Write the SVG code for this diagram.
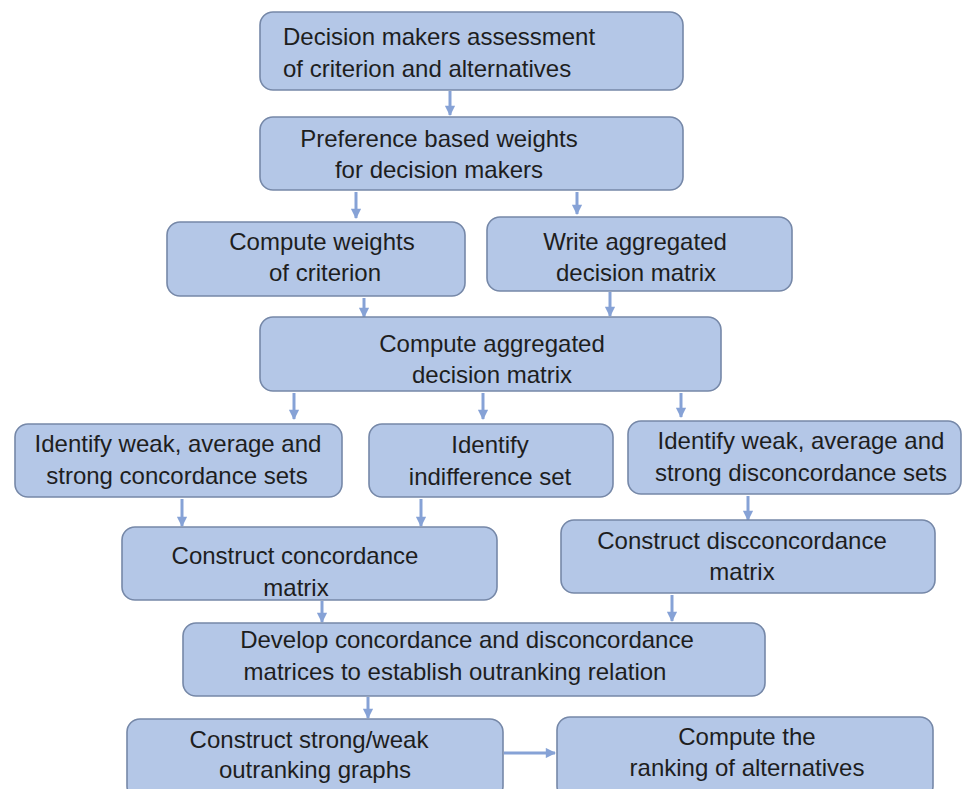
<svg xmlns="http://www.w3.org/2000/svg" width="964" height="789" viewBox="0 0 964 789">
<defs>
<style>
.box{fill:#b4c7e7;stroke:#7688a8;stroke-width:1.6}
.t{font-family:"Liberation Sans",Arial,sans-serif;font-size:24px;fill:#1e1e1e;text-anchor:middle}
.tl{text-anchor:start}
.c{stroke:#86a2d6;stroke-width:3;fill:none}
</style>
<marker id="ah" viewBox="0 0 10 10" refX="9" refY="5" markerWidth="4" markerHeight="3.4" orient="auto" markerUnits="strokeWidth">
<path d="M0,0 L10,5 L0,10 z" fill="#86a2d6"/>
</marker>
</defs>
<rect width="964" height="789" fill="#ffffff"/>
<g id="connectors">
<line class="c" x1="450" y1="91" x2="450" y2="115" marker-end="url(#ah)"/>
<line class="c" x1="356" y1="192" x2="356" y2="218" marker-end="url(#ah)"/>
<line class="c" x1="577" y1="192" x2="577" y2="214" marker-end="url(#ah)"/>
<line class="c" x1="364" y1="298" x2="364" y2="317" marker-end="url(#ah)"/>
<line class="c" x1="610" y1="292" x2="610" y2="316" marker-end="url(#ah)"/>
<line class="c" x1="294" y1="393" x2="294" y2="419" marker-end="url(#ah)"/>
<line class="c" x1="483" y1="393" x2="483" y2="419" marker-end="url(#ah)"/>
<line class="c" x1="681" y1="393" x2="681" y2="417" marker-end="url(#ah)"/>
<line class="c" x1="182" y1="499" x2="182" y2="526" marker-end="url(#ah)"/>
<line class="c" x1="421" y1="499" x2="421" y2="526" marker-end="url(#ah)"/>
<line class="c" x1="748" y1="496" x2="748" y2="520" marker-end="url(#ah)"/>
<line class="c" x1="322" y1="601" x2="322" y2="622" marker-end="url(#ah)"/>
<line class="c" x1="672" y1="595" x2="672" y2="621" marker-end="url(#ah)"/>
<line class="c" x1="368" y1="697" x2="368" y2="718" marker-end="url(#ah)"/>
<line class="c" x1="504" y1="753" x2="555" y2="753" stroke-width="4" marker-end="url(#ah)"/>
</g>
<g id="n1"><rect class="box" x="260" y="12" width="423" height="78" rx="13"/>
<text class="t tl" x="283" y="45">Decision makers assessment</text>
<text class="t tl" x="283" y="77">of criterion and alternatives</text></g>
<g id="n2"><rect class="box" x="260" y="117" width="423" height="73" rx="13"/>
<text class="t" x="439" y="147">Preference based weights</text>
<text class="t" x="439" y="178">for decision makers</text></g>
<g id="n3"><rect class="box" x="167" y="222" width="298" height="74" rx="13"/>
<text class="t" x="322" y="250">Compute weights</text>
<text class="t" x="325" y="281">of criterion</text></g>
<g id="n4"><rect class="box" x="487" y="217" width="305" height="74" rx="13"/>
<text class="t" x="635" y="250">Write aggregated</text>
<text class="t" x="636" y="281">decision matrix</text></g>
<g id="n5"><rect class="box" x="260" y="317" width="461" height="74" rx="13"/>
<text class="t" x="492" y="352">Compute aggregated</text>
<text class="t" x="492" y="383">decision matrix</text></g>
<g id="n6"><rect class="box" x="15" y="424" width="327" height="73" rx="13"/>
<text class="t" x="178" y="452">Identify weak, average and</text>
<text class="t" x="177" y="484">strong concordance sets</text></g>
<g id="n7"><rect class="box" x="369" y="424" width="244" height="73" rx="13"/>
<text class="t" x="490" y="453">Identify</text>
<text class="t" x="490" y="485">indifference set</text></g>
<g id="n8"><rect class="box" x="628" y="421" width="333" height="73" rx="13"/>
<text class="t" x="801" y="449">Identify weak, average and</text>
<text class="t" x="801" y="481">strong disconcordance sets</text></g>
<g id="n9"><rect class="box" x="122" y="527" width="375" height="73" rx="13"/>
<text class="t" x="295" y="564">Construct concordance</text>
<text class="t" x="296" y="596">matrix</text></g>
<g id="n10"><rect class="box" x="561" y="520" width="374" height="73" rx="13"/>
<text class="t" x="742" y="549">Construct discconcordance</text>
<text class="t" x="742" y="580">matrix</text></g>
<g id="n11"><rect class="box" x="183" y="623" width="582" height="73" rx="13"/>
<text class="t" x="467" y="648">Develop concordance and disconcordance</text>
<text class="t" x="455" y="680">matrices to establish outranking relation</text></g>
<g id="n12"><rect class="box" x="127" y="719" width="376" height="80" rx="13"/>
<text class="t" x="309" y="748">Construct strong/weak</text>
<text class="t" x="315" y="778">outranking graphs</text></g>
<g id="n13"><rect class="box" x="557" y="717" width="376" height="82" rx="13"/>
<text class="t" x="747" y="745">Compute the</text>
<text class="t" x="747" y="776">ranking of alternatives</text></g>
</svg>
